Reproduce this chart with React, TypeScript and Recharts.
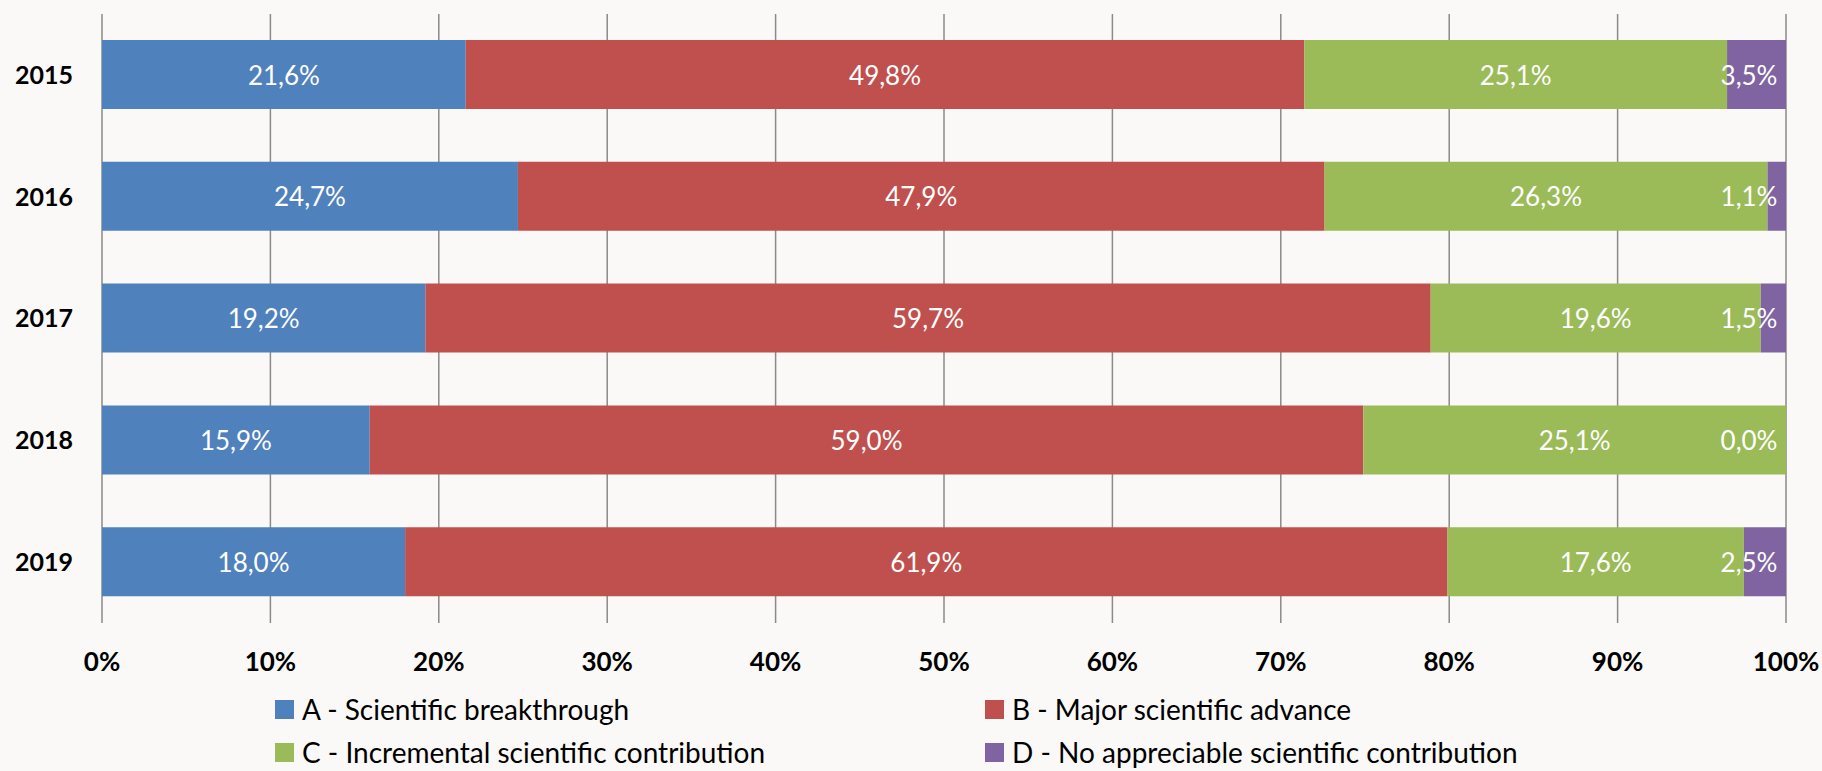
import { BarChart, Bar, XAxis, YAxis, CartesianGrid, Legend, LabelList } from 'recharts';

const years = ['2015', '2016', '2017', '2018', '2019'];
const breakthrough = [21.6, 24.7, 19.2, 15.9, 18.0];
const majorAdvance = [49.8, 47.9, 59.7, 59.0, 61.9];
const incremental = [25.1, 26.3, 19.6, 25.1, 17.6];
const noContribution = [3.5, 1.1, 1.5, 0.0, 2.5];
const xTicks = [0, 10, 20, 30, 40, 50, 60, 70, 80, 90, 100];

const series = [
    { key: 'a', name: 'A - Scientific breakthrough', color: '#4F81BD' },
    { key: 'b', name: 'B - Major scientific advance', color: '#C0504D' },
    { key: 'c', name: 'C - Incremental scientific contribution', color: '#9BBB59' },
    { key: 'd', name: 'D - No appreciable scientific contribution', color: '#8064A2' },
];

const data = years.map((year, i) => ({
    year,
    a: breakthrough[i],
    b: majorAdvance[i],
    c: incremental[i],
    d: noContribution[i],
}));

const FONT = 'Lato, "Open Sans", sans-serif';
const W = 1822;
const H = 771;
const PLOT_RIGHT = 1786;

const fmt = (v: number) => v.toFixed(1).replace('.', ',') + '%';

// labels of the last segment are pushed back inside the plot when they would overflow
const renderLabel = (clampRight: boolean) => (props: any) => {
    const { x, y, width, height, value } = props;
    let cx = Number(x) + Number(width) / 2;
    if (clampRight) cx = Math.min(cx, PLOT_RIGHT - 37);
    return (
        <text
            x={cx}
            y={Number(y) + Number(height) / 2}
            fill="#ffffff"
            fontSize={26}
            fontFamily={FONT}
            textAnchor="middle"
            dominantBaseline="central"
        >
            {fmt(Number(value))}
        </text>
    );
};

const legendPos = [
    { left: 275, top: 709 },
    { left: 985, top: 709 },
    { left: 275, top: 752 },
    { left: 985, top: 752 },
];

const LegendBox = () => (
    <div style={{ position: 'relative', width: W, height: 0 }}>
        {series.map((s, i) => (
            <div
                key={s.key}
                style={{
                    position: 'absolute',
                    left: legendPos[i].left,
                    top: legendPos[i].top - 16,
                    height: 32,
                    lineHeight: '32px',
                    display: 'flex',
                    alignItems: 'center',
                    fontFamily: FONT,
                    fontSize: 28,
                    color: '#000',
                    whiteSpace: 'nowrap',
                }}
            >
                <span style={{ display: 'inline-block', width: 19, height: 19, background: s.color, marginRight: 8 }} />
                {s.name}
            </div>
        ))}
    </div>
);

const App = () => {
    return (
        <div style={{ width: W, height: H, background: '#FAF9F7', overflow: 'hidden' }}>
            <style>{'body{margin:0}'}</style>
            <BarChart
                width={W}
                height={H}
                data={data}
                layout="vertical"
                margin={{ top: 14, right: W - PLOT_RIGHT, bottom: 118, left: 0 }}
            >
                <CartesianGrid horizontal={false} vertical={true} stroke="#8a8a8a" strokeWidth={1.5} />
                <XAxis
                    type="number"
                    domain={[0, 100]}
                    ticks={xTicks}
                    tickFormatter={(v) => v + '%'}
                    axisLine={false}
                    tickLine={false}
                    tickSize={0}
                    tickMargin={30}
                    height={30}
                    interval={0}
                    tick={{ fill: '#000', fontSize: 26, fontWeight: 700, fontFamily: FONT }}
                />
                <YAxis
                    type="category"
                    dataKey="year"
                    width={102}
                    axisLine={false}
                    tickLine={false}
                    tickSize={0}
                    tickMargin={29}
                    tick={{ fill: '#000', fontSize: 25, fontWeight: 700, fontFamily: FONT }}
                />
                <Legend
                    wrapperStyle={{ position: 'absolute', top: 0, left: 0, width: W, height: 0 }}
                    content={() => <LegendBox />}
                />
                {series.map((s) => (
                    <Bar
                        key={s.key}
                        dataKey={s.key}
                        name={s.name}
                        stackId="all"
                        fill={s.color}
                        barSize={69}
                        minPointSize={s.key === 'd' ? 0.01 : 0}
                        isAnimationActive={false}
                    >
                        <LabelList dataKey={s.key} content={renderLabel(s.key === 'd')} />
                    </Bar>
                ))}
            </BarChart>
        </div>
    );
};

export default App;
